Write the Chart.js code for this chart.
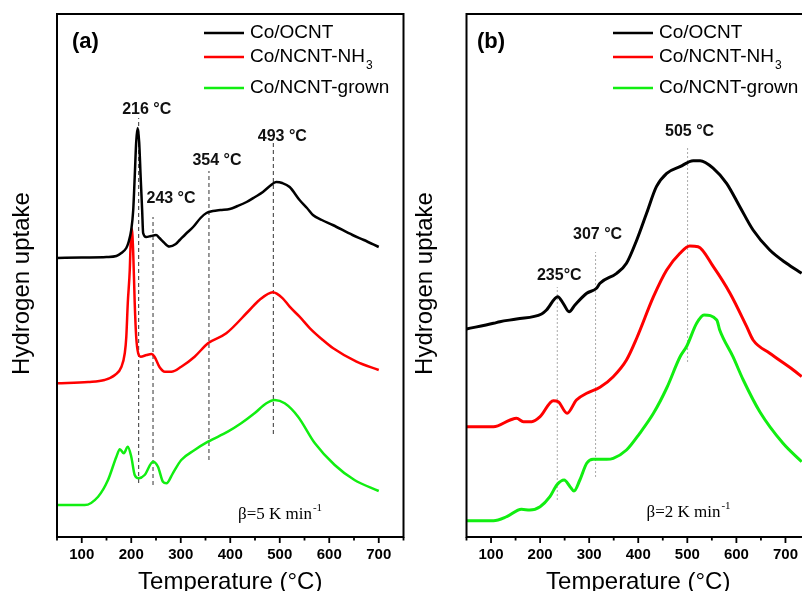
<!DOCTYPE html>
<html lang="en">
<head>
<meta charset="utf-8">
<script src="https://cdn.jsdelivr.net/npm/chart.js"></script>
<style>
  html, body { margin: 0; padding: 0; background: #fff; overflow: hidden; }
  #wrap { position: relative; width: 802px; height: 591px; overflow: hidden; background: #fff; }
  canvas { position: absolute; top: 0; }
  #chartA { left: 0; }
  #chartB { left: 405px; }
</style>
</head>
<body>
<div id="wrap">
  <canvas id="chartA" width="420" height="591"></canvas>
  <canvas id="chartB" width="425" height="591"></canvas>
</div>
<script>
// x = temperature (°C), y = hydrogen uptake (arbitrary units, offset traces)
// axis ticks
const xMajorTicks = [100, 200, 300, 400, 500, 600, 700];
const xMinorTicks = [50, 150, 250, 350, 450, 550, 650, 750];

// (a) beta = 5 K/min
const aOcntT = [50, 100, 150, 170, 180, 190, 194, 200, 204, 207, 210, 213, 216, 219, 222, 224, 230, 240, 250, 257, 265, 277, 290, 298, 310, 325, 340, 352, 365, 380, 399, 415, 433, 450, 466, 480, 493, 505, 520, 540, 555, 567, 585, 607, 647, 670, 700];
const aOcntY = [279, 279.5, 280, 281, 284, 289, 294, 307, 327, 360, 395, 409, 395, 360, 327, 304, 300, 301, 302, 299, 295, 290.5, 293, 297, 303, 310, 319, 324, 326, 327, 328, 331, 335, 340, 345, 351, 355, 354, 350, 337, 329, 322, 317, 312, 302, 297, 290];

const aNh3T = [50, 113, 146, 167, 180, 187, 190, 193, 197, 199, 201, 204, 207, 210, 214, 219, 231, 241, 247, 257, 268, 281, 301, 328, 355, 392, 439, 459, 486, 506, 520, 540, 561, 587, 608, 655, 700];
const aNh3Y = [153.7, 155, 157, 162, 170, 184, 200, 234, 267, 297, 308.7, 284, 234, 200, 183.7, 180.3, 182, 183, 180.3, 170, 165.3, 165.3, 170.3, 180.3, 193.7, 203.7, 227, 237, 244.7, 238.7, 230.3, 220.3, 208.7, 197, 188.7, 175.3, 167];

const aGrownT = [50, 106, 133, 153, 170, 177, 185, 193, 200, 207, 215, 227, 244, 254, 264, 271, 284, 301, 328, 355, 395, 422, 449, 473, 490, 510, 537, 571, 611, 651, 700];
const aGrownY = [32, 32, 40.3, 57, 80.3, 87.7, 83.7, 90.3, 80.3, 62, 58.7, 62, 75.3, 70.3, 55.3, 53.7, 63.7, 77, 87, 95.3, 105.3, 113.7, 123.7, 133.7, 137, 133.7, 120.3, 93.7, 72, 57, 46];

const aMarkT = [215, 244, 357, 487];
const aMarkLow = [54, 52, 77, 103];
const aMarkHigh = [419, 320, 366, 394];
const aMarkText = ['216 °C', '243 °C', '354 °C', '493 °C'];

// (b) beta = 2 K/min
const bOcntT = [50, 105, 118, 152, 203, 213, 236, 247, 259, 271, 295, 315, 322, 356, 376, 397, 417, 437, 458, 485, 512, 526, 553, 580, 607, 634, 668, 702, 733];
const bOcntY = [208, 213.7, 215.3, 218, 223, 227, 240.3, 233.7, 225.3, 232, 243.7, 248.7, 253.7, 263.7, 273.7, 297, 323.7, 350.3, 363.7, 370.3, 376.3, 376.3, 368.7, 353.7, 330.3, 307, 287, 273.7, 263.7];

const bNh3T = [50, 105, 139, 152, 166, 183, 200, 227, 237, 255, 274, 295, 322, 349, 376, 397, 431, 458, 485, 505, 522, 553, 587, 621, 634, 668, 716, 733];
const bNh3Y = [110.3, 110.3, 117, 118.7, 115.3, 115.3, 120.3, 136.3, 135.3, 123.7, 137, 143.7, 149.7, 160.3, 177, 199, 240.3, 267, 283.7, 291, 290.3, 270.3, 243.7, 210.3, 197, 183.7, 167, 160.3];

const bGrownT = [50, 105, 132, 162, 179, 200, 220, 234, 249, 261, 269, 281, 295, 308, 336, 349, 376, 403, 431, 458, 485, 499, 519, 534, 560, 566, 593, 614, 648, 695, 733];
const bGrownY = [16.3, 16.3, 20.3, 27.7, 27, 30.3, 40.3, 52, 57, 50.3, 46, 57, 73.7, 77.7, 77.7, 78.7, 87, 103.7, 123.7, 149, 180, 191, 213.7, 222, 217, 207, 180.3, 157, 125, 93.7, 75.3];

const bMarkT = [235, 313, 500.5];
const bMarkLow = [37, 60, 175];
const bMarkHigh = [250, 285, 390];
const bMarkText = ['235°C', '307 °C', '505 °C'];

const seriesNames = ['Co/OCNT', 'Co/NCNT-NH', 'Co/NCNT-grown'];
const seriesSub = ['', '3', ''];
const seriesColors = ['#000000', '#ff0000', '#11ee11'];

const SANS = '"Liberation Sans", Arial, sans-serif';
const SERIF = '"Liberation Serif", "Times New Roman", serif';

function pts(t, y) {
  return t.map((v, i) => ({ x: v, y: y[i] }));
}

function curve(t, y, color, width) {
  return {
    data: pts(t, y),
    borderColor: color,
    borderWidth: width,
    pointRadius: 0,
    cubicInterpolationMode: 'monotone',
    fill: false,
    order: 0
  };
}

function markers(ts, lows, highs, color, dash) {
  return ts.map((t, i) => ({
    data: [{ x: t, y: lows[i] }, { x: t, y: highs[i] }],
    borderColor: color,
    borderWidth: 1,
    borderDash: dash,
    pointRadius: 0,
    fill: false,
    order: 1
  }));
}

// frame, tick marks, legend and labels
const decor = {
  id: 'decor',
  afterDraw(chart, args, o) {
    const { ctx, chartArea: a, scales: { x, y } } = chart;
    ctx.save();
    ctx.strokeStyle = '#000';
    ctx.lineWidth = 2;
    ctx.strokeRect(a.left, a.top, a.right - a.left, a.bottom - a.top);

    ctx.lineWidth = 1.8;
    ctx.beginPath();
    xMajorTicks.forEach(v => {
      const px = x.getPixelForValue(v);
      ctx.moveTo(px, a.bottom); ctx.lineTo(px, a.bottom + 6);
    });
    xMinorTicks.forEach(v => {
      const px = x.getPixelForValue(v);
      ctx.moveTo(px, a.bottom); ctx.lineTo(px, a.bottom + 3.5);
    });
    ctx.stroke();

    // peak labels
    ctx.fillStyle = '#111';
    ctx.font = 'bold 16px ' + SANS;
    ctx.textAlign = 'center';
    ctx.textBaseline = 'middle';
    o.markT.forEach((t, i) => {
      const px = x.getPixelForValue(t);
      const py = y.getPixelForValue(o.markHigh[i]);
      ctx.fillText(o.markText[i], px + o.dx[i], py + o.dy[i]);
    });

    // panel letter
    ctx.fillStyle = '#000';
    ctx.textAlign = 'left';
    ctx.font = 'bold 22px ' + SANS;
    ctx.fillText(o.letter, a.left + o.letterX, a.top + 28);

    // legend
    const lx = a.left + o.legX;
    const rows = [19, 43, 74];
    seriesNames.forEach((name, i) => {
      const ry = a.top + rows[i];
      ctx.strokeStyle = seriesColors[i];
      ctx.lineWidth = 2.5;
      ctx.beginPath();
      ctx.moveTo(lx, ry); ctx.lineTo(lx + 40, ry);
      ctx.stroke();
      ctx.fillStyle = '#000';
      ctx.font = '19px ' + SANS;
      ctx.fillText(name, lx + 46, ry);
      if (seriesSub[i]) {
        const w = ctx.measureText(name).width;
        ctx.font = '12px ' + SANS;
        ctx.fillText(seriesSub[i], lx + 47 + w, ry + 9);
      }
    });

    // heating rate
    ctx.font = '17px ' + SERIF;
    const bx = a.left + o.betaX, by = a.bottom + o.betaY;
    ctx.fillText(o.beta, bx, by);
    const bw = ctx.measureText(o.beta).width;
    ctx.font = '11px ' + SERIF;
    ctx.fillText('-1', bx + bw + 1, by - 7);

    // y title
    ctx.save();
    ctx.translate(a.left - o.yTitleX, a.top + 269.5);
    ctx.rotate(-Math.PI / 2);
    ctx.textAlign = 'center';
    ctx.font = '24px ' + SANS;
    ctx.fillText('Hydrogen uptake', 0, 0);
    ctx.restore();

    ctx.restore();
  }
};

function makeChart(id, datasets, padRight, yWidth, deco) {
  return new Chart(document.getElementById(id), {
    type: 'line',
    data: { datasets: datasets },
    options: {
      responsive: false,
      animation: false,
      devicePixelRatio: 1,
      layout: { padding: { left: 0, top: 14, right: padRight, bottom: 0 } },
      plugins: { legend: { display: false }, tooltip: { enabled: false }, decor: deco },
      scales: {
        x: {
          type: 'linear',
          min: 50,
          max: 750,
          grid: { display: false, drawTicks: false },
          border: { display: false },
          afterBuildTicks: s => { s.ticks = xMajorTicks.map(v => ({ value: v })); },
          afterFit: s => { s.height = 54; },
          ticks: { color: '#000', padding: 9, maxRotation: 0, font: { family: SANS, size: 15, weight: 'bold' } },
          title: { display: true, text: 'Temperature (°C)', color: '#000', padding: 0, font: { family: SANS, size: 24, lineHeight: 0.7 } }
        },
        y: {
          min: 0,
          max: 523,
          grid: { display: false, drawTicks: false },
          border: { display: false },
          ticks: { display: false },
          afterFit: s => { s.width = yWidth; }
        }
      }
    },
    plugins: [decor]
  });
}

makeChart('chartA', [
  curve(aOcntT, aOcntY, seriesColors[0], 2.5),
  curve(aNh3T, aNh3Y, seriesColors[1], 2.5),
  curve(aGrownT, aGrownY, seriesColors[2], 2.5),
  ...markers(aMarkT, aMarkLow, aMarkHigh, '#333', [4, 3])
], 16.5, 57, {
  markT: aMarkT, markHigh: aMarkHigh, markText: aMarkText,
  dx: [8, 18, 8, 9], dy: [-8, -18, -10, -6],
  letter: '(a)', letterX: 15, legX: 147,
  beta: 'β=5 K min', betaX: 181, betaY: -22,
  yTitleX: 35
});

makeChart('chartB', [
  curve(bOcntT, bOcntY, seriesColors[0], 3),
  curve(bNh3T, bNh3Y, seriesColors[1], 3),
  curve(bGrownT, bGrownY, seriesColors[2], 3),
  ...markers(bMarkT, bMarkLow, bMarkHigh, '#aaa', [2, 2])
], 20, 61.5, {
  markT: bMarkT, markHigh: bMarkHigh, markText: bMarkText,
  dx: [2, 2, 2], dy: [-11, -17, -15],
  letter: '(b)', letterX: 10.5, legX: 146.5,
  beta: 'β=2 K min', betaX: 180, betaY: -24,
  yTitleX: 41.5
});
</script>
</body>
</html>
